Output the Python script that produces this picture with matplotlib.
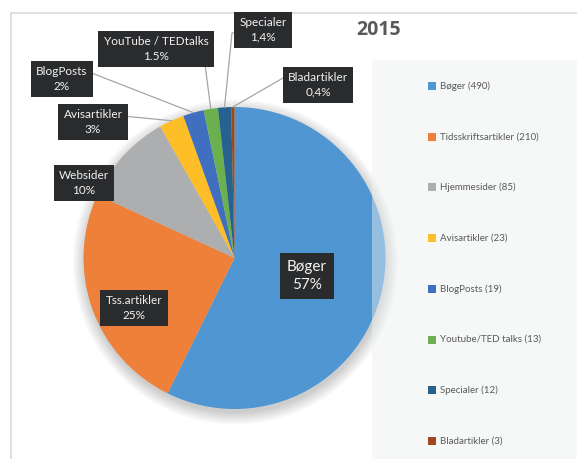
import numpy as np
import matplotlib
matplotlib.use('Agg')
import matplotlib.pyplot as plt
from matplotlib.patches import Rectangle, Circle

# data
names = ['Bøger', 'Tidsskriftsartikler', 'Hjemmesider', 'Avisartikler',
         'BlogPosts', 'Youtube/TED talks', 'Specialer', 'Bladartikler']
counts = [490, 210, 85, 23, 19, 13, 12, 3]
label_names = ['Bøger', 'Tss.artikler', 'Websider', 'Avisartikler',
               'BlogPosts', 'YouTube / TEDtalks', 'Specialer', 'Bladartikler']
label_pcts = ['57%', '25%', '10%', '3%', '2%', '1.5%', '1,4%', '0,4%']
colors = ['#4F96D2', '#EE8039', '#ADAEB0', '#FEBE27',
          '#3F6FBE', '#6BB04E', '#27628F', '#9C4A1B']

W, H = 577, 459


def Y(y):
    return H - y


plt.rcParams['font.family'] = ['Lato', 'DejaVu Sans']
fig = plt.figure(figsize=(W / 100, H / 100), dpi=100)
ax = fig.add_axes([0, 0, 1, 1])

cx, cy, r = 234.5, 258, 151

# outer frame and legend panel (panel sits over the pie, semi-transparent)
ax.add_patch(Rectangle((11, -10), 700, Y(13) + 10, fc='white', ec='#D9D9D9', lw=1.2, zorder=0))
ax.add_patch(Rectangle((372, -10), 300, Y(60) + 10, fc='#ECF1F1', ec='none', alpha=0.45, zorder=3))

# soft shadow behind the pie
for i in range(10):
    ax.add_patch(Circle((cx + 1, Y(cy + 4)), r + i * 1.3, fc='black', ec='none',
                        alpha=0.018, zorder=1))

wedges, _ = ax.pie(counts, colors=colors, startangle=90, counterclock=False,
                   center=(cx, Y(cy)), radius=r,
                   wedgeprops=dict(linewidth=0, edgecolor='none'))
for w in wedges:
    w.set_zorder(2)

ax.set_xlim(0, W)
ax.set_ylim(0, H)
ax.set_aspect('equal')
ax.axis('off')

# label boxes (pixel centres)
label_pos = [(307, 276), (134, 308), (84, 183), (93, 122),
             (62, 79), (156, 49), (263, 30), (318, 85)]
label_size = [11, 8.5, 8.5, 8.5, 8.5, 8.5, 8.5, 8.5]
# leader paths start at box edge, end at wedge edge
leaders = {
    3: [(123, 116)],
    4: [(89, 72)],
    5: [(205, 64)],
    6: [(237, 33), (232, 33)],
    7: [(288, 78), (283, 78)],
}

for i, w in enumerate(wedges):
    mid = np.deg2rad((w.theta1 + w.theta2) / 2)
    ex = w.center[0] + w.r * np.cos(mid)
    ey = w.center[1] + w.r * np.sin(mid)
    if i in leaders:
        pts = [(x, Y(y)) for x, y in leaders[i]] + [(ex, ey)]
        xs, ys = zip(*pts)
        ax.plot(xs, ys, color='#A6A6A6', lw=0.9, zorder=4)
    lx, ly = label_pos[i]
    ax.text(lx, Y(ly), label_names[i] + '\n' + label_pcts[i], ha='center', va='center',
            color='#F2F2F2', fontsize=label_size[i], linespacing=1.35, zorder=5,
            bbox=dict(boxstyle='square,pad=0.45', fc='#2A2B2D', ec='none'))

# title
ax.text(379, Y(30), '2015', ha='center', va='center', fontsize=14,
        fontweight='bold', color='#595959', zorder=5,
        family=['Open Sans', 'DejaVu Sans'])

# legend
y0, step = 86, 50.7
for i, w in enumerate(wedges):
    yy = y0 + i * step
    ax.add_patch(Rectangle((428, Y(yy) - 4), 8, 8, fc=w.get_facecolor(), ec='none', zorder=4))
    ax.text(440, Y(yy), '%s (%d)' % (names[i], counts[i]), ha='left', va='center',
            fontsize=7, color='#595959', zorder=4)

fig.savefig('out.png', dpi=100)
